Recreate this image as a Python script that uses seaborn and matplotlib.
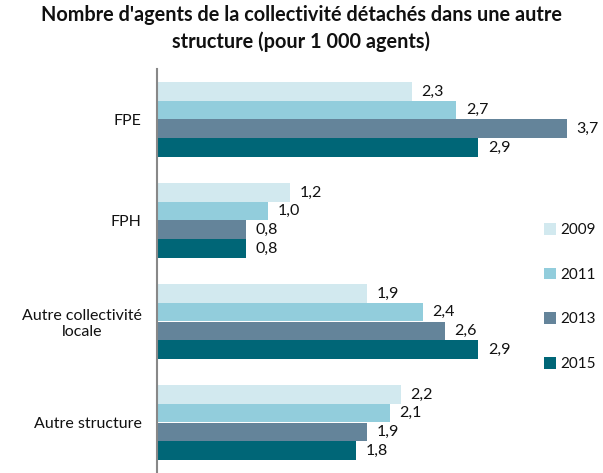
import matplotlib
matplotlib.use('Agg')

import pandas as pd
import seaborn as sns
import matplotlib.pyplot as plt
from matplotlib.patches import Patch

# === Data ===
categories = ["FPE", "FPH", "Autre collectivité\nlocale", "Autre structure"]
years = ["2009", "2011", "2013", "2015"]
values_2009 = [2.3, 1.2, 1.9, 2.2]
values_2011 = [2.7, 1.0, 2.4, 2.1]
values_2013 = [3.7, 0.8, 2.6, 1.9]
values_2015 = [2.9, 0.8, 2.9, 1.8]
colors = ["#D2E9EF", "#92CDDC", "#64849A", "#006677"]

series = [values_2009, values_2011, values_2013, values_2015]
rows = []
for year, vals in zip(years, series):
    for cat, v in zip(categories, vals):
        rows.append({"Catégorie": cat, "Année": year, "Valeur": v})
df = pd.DataFrame(rows)

# === Plot ===
sns.set_style("white")
plt.rcParams['font.family'] = ['Lato', 'DejaVu Sans']

fig = plt.figure(figsize=(6.03, 4.73), dpi=100)
ax = fig.add_axes([157 / 603, 0, 443 / 603, 404 / 473])

sns.barplot(data=df, y="Catégorie", x="Valeur", hue="Année",
            order=categories, hue_order=years, palette=colors,
            orient="h", width=0.74, gap=0, saturation=1, linewidth=0,
            ax=ax, legend=False)

for container, vals in zip(ax.containers, series):
    ax.bar_label(container, labels=[f"{v:.1f}".replace(".", ",") for v in vals],
                 padding=7, fontsize=11.5, color="#111111")

ax.set_xlim(0, 4)
ax.set_ylim(3.5, -0.5)
ax.set_xlabel("")
ax.set_ylabel("")
ax.set_xticks([])

# spines / ticks
for s in ["top", "right", "bottom"]:
    ax.spines[s].set_visible(False)
ax.spines["left"].set_color("#888888")
ax.spines["left"].set_linewidth(1.5)

ax.set_yticks(range(len(categories)))
ax.set_yticklabels(categories, fontsize=11.5, multialignment="center",
                   color="#111111")
ax.tick_params(axis="y", which="major", length=0, pad=11)
ax.set_yticks([-0.5, 0.5, 1.5, 2.5, 3.5], minor=True)
ax.tick_params(axis="y", which="minor", length=5, width=1.2, color="#888888")

# legend
handles = [Patch(facecolor=c, edgecolor="none") for c in colors]
fig.legend(handles, years, loc="center left", bbox_to_anchor=(530 / 603, 1 - 297 / 473),
           frameon=False, fontsize=11, labelspacing=2.0, handlelength=0.8,
           handleheight=0.8, handletextpad=0.3, labelcolor="#111111")

fig.suptitle("Nombre d'agents de la collectivité détachés dans une autre\nstructure (pour 1 000 agents)",
             x=0.5, y=0.99, fontsize=14.3, fontweight="bold", linespacing=1.4,
             color="#111111")

fig.savefig("out.png", dpi=100)
print("saved out.png")
